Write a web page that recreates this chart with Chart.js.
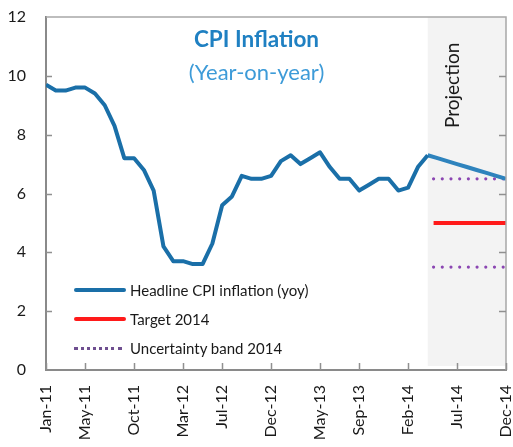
<!DOCTYPE html>
<html>
<head>
<meta charset="utf-8">
<script src="https://cdn.jsdelivr.net/npm/chart.js@4.4.1/dist/chart.umd.min.js"></script>
<style>
  html, body { margin: 0; padding: 0; background: #fff; }
  #wrap { position: relative; width: 513px; height: 447px; font-family: Lato, "Open Sans", sans-serif; }
  #c { position: absolute; left: 0; top: 0; }
  .ov { position: absolute; white-space: nowrap; color: #1a1a1a; }
  #title { left: 0; width: 513px; top: 25px; text-align: center; font-weight: bold; font-size: 22.5px; color: #1f80c2; }
  #sub { left: 0; width: 513px; top: 58px; text-align: center; font-size: 22px; color: #3d9bd8; }
  #proj { left: 440px; top: 128px; font-size: 19px; transform: rotate(-90deg); transform-origin: 0 0; }
  .lg { position: absolute; left: 130px; font-size: 15px; color: #1a1a1a; line-height: 18px; }
  .sw { position: absolute; left: 74px; width: 52px; height: 0; }
</style>
</head>
<body>
<div id="wrap">
  <canvas id="c" width="513" height="447"></canvas>
  <div class="ov" id="title">CPI Inflation</div>
  <div class="ov" id="sub">(Year-on-year)</div>
  <div class="ov" id="proj">Projection</div>
  <div class="sw" style="top:288px;border-top:4px solid #1a6fa8;border-radius:2px"></div>
  <div class="lg" style="top:281px">Headline CPI inflation (yoy)</div>
  <div class="sw" style="top:317px;border-top:4px solid #ff1a1a;border-radius:2px"></div>
  <div class="lg" style="top:310px">Target 2014</div>
  <div class="sw" style="top:347px;width:48px;border-top:3px dotted #6f4f90"></div>
  <div class="lg" style="top:339px">Uncertainty band 2014</div>
</div>
<script>
// monthly, Jan-11 .. Dec-14
const months = [
  'Jan-11','Feb-11','Mar-11','Apr-11','May-11','Jun-11','Jul-11','Aug-11','Sep-11','Oct-11','Nov-11','Dec-11',
  'Jan-12','Feb-12','Mar-12','Apr-12','May-12','Jun-12','Jul-12','Aug-12','Sep-12','Oct-12','Nov-12','Dec-12',
  'Jan-13','Feb-13','Mar-13','Apr-13','May-13','Jun-13','Jul-13','Aug-13','Sep-13','Oct-13','Nov-13','Dec-13',
  'Jan-14','Feb-14','Mar-14','Apr-14','May-14','Jun-14','Jul-14','Aug-14','Sep-14','Oct-14','Nov-14','Dec-14'
];
const tickMonths = ['Jan-11','May-11','Oct-11','Mar-12','Jul-12','Dec-12','May-13','Sep-13','Feb-14','Jul-14','Dec-14'];

// actuals Jan-11 .. Apr-14
const headline = [
  9.7, 9.5, 9.5, 9.6, 9.6, 9.4, 9.0, 8.3, 7.2, 7.2, 6.8, 6.1,
  4.2, 3.7, 3.7, 3.6, 3.6, 4.3, 5.6, 5.9, 6.6, 6.5, 6.5, 6.6,
  7.1, 7.3, 7.0, 7.2, 7.4, 6.9, 6.5, 6.5, 6.1, 6.3, 6.5, 6.5,
  6.1, 6.2, 6.9, 7.3
];
// projection Apr-14 .. Dec-14
const projection = [7.3, 7.2, 7.1, 7.0, 6.9, 6.8, 6.7, 6.6, 6.5];
const projStart = 'Apr-14';

const target = 5;
const bandHigh = 6.5;
const bandLow = 3.5;
const targetFrom = 39.6; // month position where the 2014 lines start
const targetTo = 'Dec-14';

const yTicks = [0, 2, 4, 6, 8, 10, 12];

const idx = m => months.indexOf(m);
const headlinePts = headline.map((v, i) => ({ x: i, y: v }));
const projPts = projection.map((v, i) => ({ x: idx(projStart) + i, y: v }));
const flat = v => [{ x: targetFrom, y: v }, { x: idx(targetTo), y: v }];

const frame = {
  id: 'frame',
  beforeDatasetsDraw(chart) {
    const { ctx, chartArea: a, scales: { x } } = chart;
    const x0 = x.getPixelForValue(idx(projStart));
    ctx.save();
    ctx.fillStyle = '#f3f3f3';
    ctx.fillRect(x0, a.top, a.right - x0, a.bottom - a.top - 4);
    ctx.restore();
  },
  afterDatasetsDraw(chart) {
    const { ctx, chartArea: a, scales: { x, y } } = chart;
    ctx.save();
    ctx.strokeStyle = '#a8a8a8';
    ctx.lineWidth = 1.5;
    ctx.beginPath();
    ctx.moveTo(a.left, a.top); ctx.lineTo(a.right, a.top); ctx.lineTo(a.right, a.bottom);
    ctx.stroke();
    ctx.strokeStyle = '#909090';
    ctx.lineWidth = 1.5;
    ctx.beginPath();
    yTicks.slice(1, -1).forEach(v => {
      const py = Math.round(y.getPixelForValue(v)) + 0.5;
      ctx.moveTo(a.left, py); ctx.lineTo(a.left + 6, py);
      ctx.moveTo(a.right, py); ctx.lineTo(a.right - 7, py);
    });
    tickMonths.forEach(m => {
      const px = Math.round(x.getPixelForValue(idx(m))) + 0.5;
      ctx.moveTo(px, a.bottom); ctx.lineTo(px, a.bottom - 7);
    });
    ctx.stroke();
    ctx.restore();
  }
};

const axisFont = { family: 'Lato', size: 16 };

new Chart(document.getElementById('c'), {
  type: 'line',
  data: {
    datasets: [
      { label: 'Headline CPI inflation (yoy)', data: headlinePts, borderColor: '#1a6fa8', borderWidth: 4, borderJoinStyle: 'round' },
      { label: 'Projection', data: projPts, borderColor: '#2e83bd', borderWidth: 4, borderJoinStyle: 'round' },
      { label: 'Target 2014', data: flat(target), borderColor: '#ff1a1a', borderWidth: 4 },
      { label: 'Uncertainty band 2014', data: flat(bandHigh), borderColor: '#8b46b2', borderWidth: 3.2, borderDash: [0, 8.7], borderCapStyle: 'round' },
      { label: 'Uncertainty band low', data: flat(bandLow), borderColor: '#8b46b2', borderWidth: 3.2, borderDash: [0, 8.7], borderCapStyle: 'round' }
    ]
  },
  options: {
    responsive: false,
    animation: false,
    devicePixelRatio: 1,
    layout: { padding: { top: 17, right: 7, left: 0, bottom: 0 } },
    elements: { point: { radius: 0 }, line: { tension: 0 } },
    plugins: { legend: { display: false }, tooltip: { enabled: false } },
    scales: {
      x: {
        type: 'linear',
        min: 0,
        max: months.length - 1,
        afterBuildTicks: s => { s.ticks = tickMonths.map(m => ({ value: idx(m) })); },
        afterFit: s => { s.height = 77; s.paddingLeft = 0; s.paddingRight = 0; },
        grid: { display: false, drawTicks: false },
        border: { color: '#8a8a8a', width: 2 },
        ticks: {
          autoSkip: false, minRotation: 90, maxRotation: 90, padding: 15,
          color: '#1a1a1a', font: axisFont,
          callback: v => months[v]
        }
      },
      y: {
        min: 0,
        max: 12,
        afterBuildTicks: s => { s.ticks = yTicks.map(v => ({ value: v })); },
        afterFit: s => { s.width = 46; s.paddingTop = 0; s.paddingBottom = 0; },
        grid: { display: false, drawTicks: false },
        border: { color: '#8a8a8a', width: 2 },
        ticks: { padding: 20, color: '#1a1a1a', font: axisFont }
      }
    }
  },
  plugins: [frame]
});
</script>
</body>
</html>
